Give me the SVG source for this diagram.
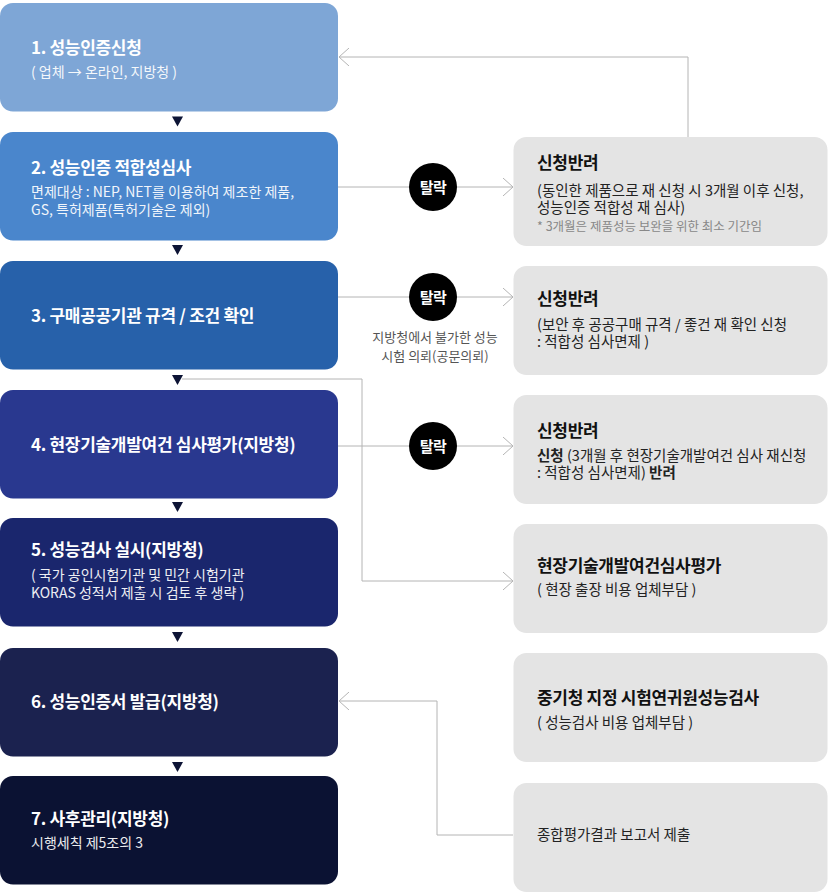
<svg xmlns="http://www.w3.org/2000/svg" width="828" height="895" viewBox="0 0 828 895">
<defs>
<style>
.t{font-family:"Noto Sans CJK KR","Noto Sans",sans-serif;}
.lt{fill:#fff;font-size:17px;font-weight:700;letter-spacing:-0.3px;}
.ls{fill:#fff;font-size:14px;opacity:0.92;}
.rt{fill:#111;font-size:17px;font-weight:700;letter-spacing:-0.3px;}
.rs{fill:#222;font-size:14.5px;}
.rn{fill:#888;font-size:12.5px;}
.gn{fill:#555;font-size:13px;}
.rb{fill:#e4e4e4;}
.ln{fill:none;stroke:#b4b4b4;stroke-width:1;}
.tri{fill:#0d1435;}
.dot{fill:#000;}
.dl{fill:#fff;font-size:15px;font-weight:700;letter-spacing:-0.5px;}
</style>
<marker id="ch" viewBox="0 0 10 18" refX="10" refY="9" markerWidth="10" markerHeight="18" markerUnits="userSpaceOnUse" orient="auto">
<path d="M0,0 L10,9 L0,18" fill="none" stroke="#b4b4b4" stroke-width="1"/>
</marker>
</defs>

<g id="connectors">
<path class="ln" d="M688,137 V57 H339" marker-end="url(#ch)"/>
<path class="ln" d="M338,187 H513" marker-end="url(#ch)"/>
<path class="ln" d="M338,297 H513" marker-end="url(#ch)"/>
<path class="ln" d="M338,446 H513" marker-end="url(#ch)"/>
<path class="ln" d="M182,379 H362 V581 H513" marker-end="url(#ch)"/>
<path class="ln" d="M513,835 H437 V701 H339" marker-end="url(#ch)"/>
<polygon class="tri" points="172,116.5 183,116.5 177.5,126.5"/>
<polygon class="tri" points="172,245 183,245 177.5,255"/>
<polygon class="tri" points="172,375 183,375 177.5,385"/>
<polygon class="tri" points="172,502 183,502 177.5,512"/>
<polygon class="tri" points="172,632 183,632 177.5,642"/>
<polygon class="tri" points="172,762 183,762 177.5,772"/>
</g>

<g id="drop1">
<circle class="dot" cx="433" cy="187" r="24"/>
<text class="t dl" x="433" y="192.5" text-anchor="middle">탈락</text>
</g>
<g id="drop2">
<circle class="dot" cx="433" cy="297" r="24"/>
<text class="t dl" x="433" y="302.5" text-anchor="middle">탈락</text>
<text class="t gn" x="435" y="342" text-anchor="middle">지방청에서 불가한 성능</text>
<text class="t gn" x="435" y="361" text-anchor="middle">시험 의뢰(공문의뢰)</text>
</g>
<g id="drop3">
<circle class="dot" cx="433" cy="446" r="24"/>
<text class="t dl" x="433" y="451.5" text-anchor="middle">탈락</text>
</g>

<g id="step1">
<rect x="0" y="3" width="338" height="108.5" rx="13" fill="#7ea6d6"/>
<text class="t lt" x="31" y="54">1. 성능인증신청</text>
<text class="t ls" x="31" y="77">( 업체 → 온라인, 지방청 )</text>
</g>
<g id="step2">
<rect x="0" y="132" width="338" height="108.5" rx="13" fill="#4a86cc"/>
<text class="t lt" x="31" y="174">2. 성능인증 적합성심사</text>
<text class="t ls" x="31" y="197">면제대상 : NEP, NET를 이용하여 제조한 제품,</text>
<text class="t ls" x="31" y="215">GS, 특허제품(특허기술은 제외)</text>
</g>
<g id="step3">
<rect x="0" y="261" width="338" height="108.5" rx="13" fill="#2761aa"/>
<text class="t lt" x="31" y="322">3. 구매공공기관 규격 / 조건 확인</text>
</g>
<g id="step4">
<rect x="0" y="390" width="338" height="108.5" rx="13" fill="#29388f"/>
<text class="t lt" x="31" y="451">4. 현장기술개발여건 심사평가(지방청)</text>
</g>
<g id="step5">
<rect x="0" y="518" width="338" height="108.5" rx="13" fill="#1a266d"/>
<text class="t lt" x="31" y="556">5. 성능검사 실시(지방청)</text>
<text class="t ls" x="31" y="580">( 국가 공인시험기관 및 민간 시험기관</text>
<text class="t ls" x="31" y="598">KORAS 성적서 제출 시 검토 후 생략 )</text>
</g>
<g id="step6">
<rect x="0" y="648" width="338" height="108.5" rx="13" fill="#1b224f"/>
<text class="t lt" x="31" y="708">6. 성능인증서 발급(지방청)</text>
</g>
<g id="step7">
<rect x="0" y="776" width="338" height="108.5" rx="13" fill="#0b1233"/>
<text class="t lt" x="31" y="825">7. 사후관리(지방청)</text>
<text class="t ls" x="31" y="848">시행세칙 제5조의 3</text>
</g>

<g id="reject1">
<rect class="rb" x="513.5" y="137" width="314" height="109" rx="13"/>
<text class="t rt" x="537" y="169">신청반려</text>
<text class="t rs" x="537" y="196">(동인한 제품으로 재 신청 시 3개월 이후 신청,</text>
<text class="t rs" x="537" y="213">성능인증 적합성 재 심사)</text>
<text class="t rn" x="537" y="231">* 3개월은 제품성능 보완을 위한 최소 기간임</text>
</g>
<g id="reject2">
<rect class="rb" x="513.5" y="266" width="314" height="109" rx="13"/>
<text class="t rt" x="537" y="305">신청반려</text>
<text class="t rs" x="537" y="330">(보안 후 공공구매 규격 / 좋건 재 확인 신청</text>
<text class="t rs" x="537" y="347">: 적합성 심사면제 )</text>
</g>
<g id="reject3">
<rect class="rb" x="513.5" y="395" width="314" height="109" rx="13"/>
<text class="t rt" x="537" y="437">신청반려</text>
<text class="t rs" x="537" y="461"><tspan font-weight="700">신청</tspan> (3개월 후 현장기술개발여건 심사 재신청</text>
<text class="t rs" x="537" y="478">: 적합성 심사면제) <tspan font-weight="700">반려</tspan></text>
</g>
<g id="siteeval">
<rect class="rb" x="513.5" y="524" width="314" height="109" rx="13"/>
<text class="t rt" x="537" y="572">현장기술개발여건심사평가</text>
<text class="t rs" x="537" y="595">( 현장 출장 비용 업체부담 )</text>
</g>
<g id="perftest">
<rect class="rb" x="513.5" y="653" width="314" height="109" rx="13"/>
<text class="t rt" x="537" y="704">중기청 지정 시험연귀원성능검사</text>
<text class="t rs" x="537" y="728">( 성능검사 비용 업체부담 )</text>
</g>
<g id="report">
<rect class="rb" x="513.5" y="783" width="314" height="109" rx="13"/>
<text class="t rs" x="537" y="840">종합평가결과 보고서 제출</text>
</g>
</svg>
